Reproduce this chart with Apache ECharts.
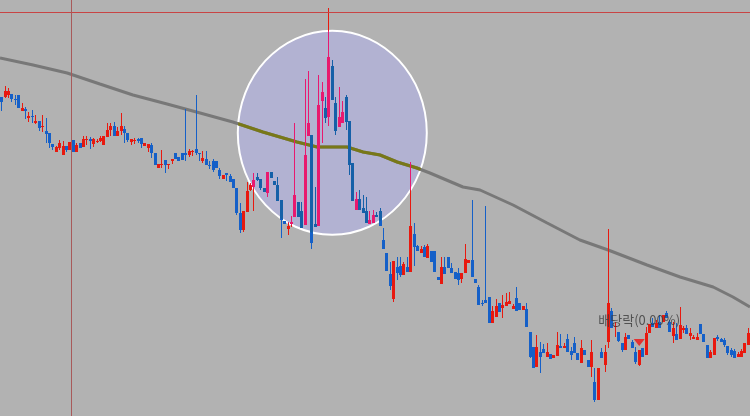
<!DOCTYPE html>
<html><head><meta charset="utf-8">
<script src="https://cdn.jsdelivr.net/npm/echarts@6/dist/echarts.min.js"></script>
<style>html,body{margin:0;padding:0;background:#b2b2b2}#c{width:750px;height:416px}</style>
</head><body><div id="c"></div>
<script>
// candles: [open, close, low, high]
const ohlc = [
[319,314,305,319],[319,325,318,330],[321,325,318,328],[322,317,314,322],[317,316,311,321],
[321,308,308,321],[305,308,305,313],[307,305,297,309],[298,300,294,304],[300,299,293,306],
[293,295,292,301],[295,288,285,295],[289,290,284,301],[285,282,273,298],[283,273,268,283],
[272,269,266,272],[264,269,264,270],[268,273,266,276],[261,270,261,275],[270,266,264,270],
[266,274,266,274],[276,264,264,276],[264,271,264,273],[273,268,268,273],[269,277,269,280],
[276,277,271,280],[277,275,267,279],[272,277,269,278],[274,275,273,277],[275,278,274,280],
[271,280,271,280],[279,286,279,293],[286,290,280,293],[290,280,280,294],[280,285,280,289],
[285,290,281,303],[287,283,273,290],[283,276,274,283],[274,277,271,277],[275,276,272,278],
[277,275,273,278],[278,272,268,278],[270,273,270,273],[268,272,264,272],[271,263,258,273],
[263,251,251,263],[248,252,248,252],[251,252,248,266],[256,251,243,256],[251,252,247,252],
[255,257,252,257],[263,257,257,263],[259,255,255,259],[263,256,256,263],[263,261,255,307],
[261,265,259,267],[264,265,260,266],[267,263,261,321],[263,262,255,263],[255,258,253,265],
[257,251,251,265],[251,250,247,255],[255,246,244,257],[255,248,248,255],[246,240,237,248],
[237,241,237,241],[243,241,235,243],[240,234,234,242],[237,228,228,237],[228,203,201,228],
[203,186,183,213],[186,205,184,205],[204,225,204,234],[226,231,225,233],[229,236,205,243],
[239,236,235,243],[237,228,226,237],[228,224,224,228],[223,244,219,244],[244,238,238,244],
[235,231,231,235],[231,215,215,239],[216,196,178,216],[195,192,192,195],[187,190,181,194],
[192,194,189,200],[199,221,199,293],[214,199,199,214],[205,188,188,214],[191,261,191,337],
[280,293,280,345],[281,173,167,281],[192,189,189,229],[190,311,190,341],[315,324,273,334],
[308,298,293,319],[299,359,290,408],[350,316,316,356],[313,285,281,319],[289,299,289,329],
[293,304,293,315],[319,294,286,321],[295,251,241,295],[253,215,215,253],[206,217,206,224],
[217,206,206,226],[208,203,203,221],[205,193,193,219],[192,196,192,205],[193,201,193,206],
[201,199,199,204],[205,190,190,208],[176,167,167,188],[163,145,145,163],[142,130,126,154],
[117,155,114,155],[149,143,136,159],[150,141,139,159],[141,152,141,154],[149,144,144,159],
[144,190,144,254],[182,169,150,193],[170,165,165,171],[163,167,163,170],[169,159,159,171],
[158,170,158,172],[165,154,154,165],[165,144,144,165],[139,136,136,139],[132,149,132,159],
[149,142,142,159],[159,148,148,159],[148,143,143,153],[144,137,137,144],[143,136,131,148],
[137,143,133,143],[143,157,143,172],[153,156,153,156],[156,139,139,216],[137,133,133,137],
[129,111,111,131],[113,112,110,116],[116,113,113,210],[119,93,93,119],[93,105,93,110],
[99,110,99,117],[113,104,104,113],[108,111,98,121],[110,114,110,123],[112,115,112,124],
[107,110,107,112],[118,105,105,129],[113,106,106,113],[106,110,106,110],[107,89,89,113],
[84,59,58,84],[69,48,48,69],[49,69,49,81],[64,59,43,74],[67,63,63,72],
[59,64,59,73],[62,57,57,62],[58,61,58,61],[60,71,60,84],[70,68,68,82],
[68,70,68,73],[77,64,64,82],[65,61,56,69],[73,63,63,79],[63,56,56,63],
[53,68,53,76],[66,61,61,66],[56,49,49,56],[49,64,39,76],[34,16,14,48],
[16,48,16,48],[64,58,58,68],[51,64,44,71],[74,113,68,187],[105,88,88,108],
[89,90,79,94],[84,75,74,84],[73,66,64,73],[66,79,66,83],[81,77,77,81],
[74,68,68,76],[64,54,52,69],[51,66,50,66],[68,59,59,68],[61,83,61,89],
[83,92,83,92],[93,89,89,98],[88,93,88,96],[94,88,88,101],[94,101,94,101],
[103,98,98,105],[94,84,84,96],[80,88,73,94],[82,76,76,93],[77,91,77,109],
[86,88,83,90],[88,82,82,91],[80,83,76,88],[77,79,77,81],[76,79,76,83],
[92,82,82,92],[82,74,74,82],[71,58,58,71],[58,64,58,66],[61,78,61,78],
[79,77,75,81],[77,74,74,78],[76,71,69,78],[70,63,61,70],[66,61,59,68],
[65,58,58,67],[59,62,59,64],[59,65,59,67],[63,73,63,73],[71,83,71,88]
];
const days = ohlc.map((_, i) => String(i + 1));

// moving average: candle position and value
const maIdx = [-0.5, 9.2, 19.2, 28.8, 38.5, 48.5, 58.2, 67.8, 76.6, 86.6, 92.5, 96.3, 101.3, 106, 111, 116, 121.8, 125.6, 135.3, 140.3, 150, 160, 169.6, 177.9, 189.3, 199, 208.7, 214.5, 219.5];
const maVal = [358, 351, 343, 332, 321, 312, 303, 294, 284, 274, 269, 269, 269, 264, 261, 254, 248, 243, 229, 226, 211, 193, 176, 166, 151, 139, 129, 119, 109];

// ex-dividend marker
const exDivIndex = [187];
const exDivPrice = [73.5];
const exDivLabel = '배당락(0.00%)';

// reference lines
const refPrice = 403.5;
const refIndex = 20.47;

const RED = '#e8190f', BLUE = '#1560c8';
const PINK = '#e8196f', BLUE_IN = '#1560a8';
const GRAY = '#787878', OLIVE = '#787818';
const ELL = { cx: 332.3, cy: 132.8, rx: 94.5, ry: 102 };

function candleRender(inside) {
  return function (params, api) {
    const i = api.value(0);
    const o = api.value(1), c = api.value(2), l = api.value(3), h = api.value(4);
    const up = c >= o;
    const col = inside ? (up ? PINK : BLUE_IN) : (up ? RED : BLUE);
    const pO = api.coord([i, o]), pC = api.coord([i, c]);
    const pL = api.coord([i, l]), pH = api.coord([i, h]);
    const left = Math.round(pO[0] - 1.5);
    const top = Math.round(Math.min(pO[1], pC[1]));
    const bot = Math.round(Math.max(pO[1], pC[1]));
    const wx = left + 1.5;
    const g = {
      type: 'group',
      children: [
        { type: 'line', shape: { x1: wx, y1: Math.round(pH[1]), x2: wx, y2: Math.round(pL[1]) + 0.01 }, style: { stroke: col, lineWidth: 1 } },
        { type: 'rect', shape: { x: left, y: top, width: 3, height: Math.max(1, bot - top) }, style: { fill: col } }
      ]
    };
    if (inside) g.clipPath = { type: 'ellipse', shape: ELL };
    return g;
  };
}

function maInsideRender(params, api) {
  const pts = maIdx.map((x, k) => api.coord([x, maVal[k]]));
  return {
    type: 'group',
    clipPath: { type: 'ellipse', shape: ELL },
    children: [{ type: 'polyline', shape: { points: pts }, style: { stroke: OLIVE, lineWidth: 3, fill: null } }]
  };
}

const chart = echarts.init(document.getElementById('c'), null, { renderer: 'canvas' });
chart.setOption({
  animation: false,
  backgroundColor: '#b2b2b2',
  grid: { left: 0, right: 0, top: 0, bottom: 0 },
  xAxis: [
    { type: 'category', data: days, show: false, boundaryGap: true },
    { type: 'value', min: -0.5, max: ohlc.length - 0.5, show: false }
  ],
  yAxis: { type: 'value', min: 0, max: 416, show: false },
  graphic: [{
    type: 'ellipse', shape: ELL, z: 0, silent: true,
    style: { fill: '#b2b2d2', stroke: '#ffffff', lineWidth: 2 }
  }],
  series: [
    {
      name: 'MA', type: 'line', xAxisIndex: 1, z: 2,
      data: maIdx.map((x, k) => [x, maVal[k]]),
      symbol: 'none', lineStyle: { color: GRAY, width: 3 }, silent: true
    },
    {
      name: 'MA-in', type: 'custom', xAxisIndex: 1, z: 3,
      data: [[maIdx[0], maVal[0]]],
      encode: { x: 0, y: 1 },
      renderItem: maInsideRender
    },
    {
      name: 'Price', type: 'custom', xAxisIndex: 0, z: 4,
      data: ohlc.map((d, i) => [i, d[0], d[1], d[2], d[3]]),
      encode: { x: 0, y: [1, 2, 3, 4] },
      renderItem: candleRender(false)
    },
    {
      name: 'Price-in', type: 'custom', xAxisIndex: 0, z: 5,
      data: ohlc.map((d, i) => [i, d[0], d[1], d[2], d[3]]),
      encode: { x: 0, y: [1, 2, 3, 4] },
      renderItem: candleRender(true)
    },
    {
      name: 'Event', type: 'scatter', xAxisIndex: 1, z: 6,
      data: exDivIndex.map((x, k) => [x, exDivPrice[k]]),
      symbol: 'triangle', symbolRotate: 180, symbolSize: [11, 7],
      itemStyle: { color: '#f01010' },
      label: {
        show: true, position: 'top', distance: 12,
        formatter: exDivLabel,
        color: '#3a3a3a', fontSize: 13, fontFamily: '"Noto Sans CJK KR", sans-serif'
      },
      markLine: {
        silent: true, symbol: 'none', label: { show: false },
        data: [
          { yAxis: refPrice, lineStyle: { color: '#c84444', width: 1, type: 'solid' } },
          { xAxis: refIndex, lineStyle: { color: '#a85a5a', width: 1, type: 'solid' } }
        ]
      }
    }
  ]
});
</script>
</body></html>
